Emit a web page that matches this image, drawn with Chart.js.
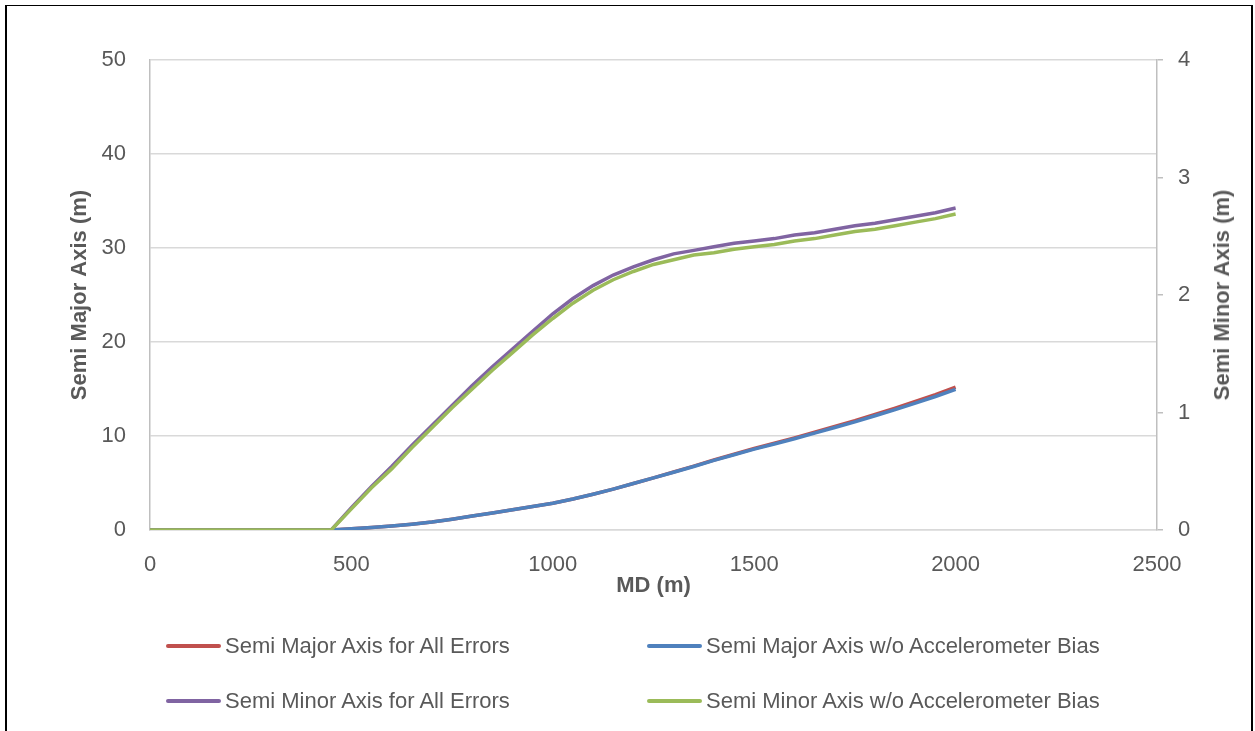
<!DOCTYPE html>
<html>
<head>
<meta charset="utf-8">
<script src="https://cdn.jsdelivr.net/npm/chart.js@4"></script>
<style>
  body { margin: 0; background: #fff; }
  #wrap { position: relative; width: 1255px; height: 731px; overflow: hidden; }
  #frame { position: absolute; left: 5px; top: 5px; width: 1248px; height: 760px;
           border: 2px solid #000; border-top-width: 1px; box-sizing: border-box; }
  #chart { position: absolute; left: 0; top: 0; }
  .leg { position: absolute; display: flex; align-items: center; height: 24px;
         font-family: "Liberation Sans Narrow", "Liberation Sans", sans-serif;
         font-size: 22px; color: #595959; white-space: nowrap; }
  .leg i { display: inline-block; width: 55px; height: 4px; border-radius: 2px; margin-right: 4px; }
  #rtitle { position: absolute; left: 1222px; top: 295px; transform: translate(-50%, -50%) rotate(-90deg);
            font-family: "Liberation Sans Narrow", "Liberation Sans", sans-serif;
            font-size: 22px; font-weight: bold; color: #595959; white-space: nowrap; }
</style>
</head>
<body>
<div id="wrap">
  <div id="frame"></div>
  <canvas id="chart" width="1255" height="731"></canvas>
  <div id="rtitle"></div>
</div>
<script>
const md = [0, 50, 100, 150, 200, 250, 300, 350, 400, 450,
  500, 550, 600, 650, 700, 750, 800, 850, 900, 950,
  1000, 1050, 1100, 1150, 1200, 1250, 1300, 1350, 1400, 1450,
  1500, 1550, 1600, 1650, 1700, 1750, 1800, 1850, 1900, 1950, 2000];

// semi major axis (left axis, m)
const majorAll = [0, 0, 0, 0, 0, 0, 0, 0, 0, 0,
  0.12, 0.26, 0.42, 0.62, 0.85, 1.15, 1.48, 1.8, 2.15, 2.5,
  2.85, 3.3, 3.8, 4.35, 4.95, 5.55, 6.17, 6.8, 7.45, 8.06,
  8.67, 9.23, 9.8, 10.4, 11.02, 11.63, 12.3, 12.96, 13.67, 14.4, 15.2];
const majorNoAcc = [0, 0, 0, 0, 0, 0, 0, 0, 0, 0,
  0.12, 0.26, 0.42, 0.62, 0.85, 1.15, 1.48, 1.8, 2.15, 2.5,
  2.85, 3.3, 3.8, 4.35, 4.95, 5.55, 6.15, 6.75, 7.4, 8.0,
  8.6, 9.15, 9.7, 10.3, 10.9, 11.5, 12.15, 12.8, 13.5, 14.2, 14.95];

// semi minor axis (right axis, m)
const minorAll = [0, 0, 0, 0, 0, 0, 0, 0, 0, 0,
  0.19, 0.37, 0.54, 0.72, 0.89, 1.06, 1.23, 1.39, 1.54, 1.69,
  1.84, 1.97, 2.08, 2.17, 2.24, 2.30, 2.35, 2.38, 2.41, 2.44,
  2.46, 2.48, 2.51, 2.53, 2.56, 2.59, 2.61, 2.64, 2.67, 2.70, 2.74];
const minorNoAcc = [0, 0, 0, 0, 0, 0, 0, 0, 0, 0,
  0.18, 0.36, 0.52, 0.70, 0.87, 1.04, 1.20, 1.36, 1.51, 1.66,
  1.80, 1.93, 2.04, 2.13, 2.20, 2.26, 2.30, 2.34, 2.36, 2.39,
  2.41, 2.43, 2.46, 2.48, 2.51, 2.54, 2.56, 2.59, 2.62, 2.65, 2.69];

const seriesNames = [
  "Semi Major Axis for All Errors",
  "Semi Major Axis w/o Accelerometer Bias",
  "Semi Minor Axis for All Errors",
  "Semi Minor Axis w/o Accelerometer Bias",
];
const seriesData = [majorAll, majorNoAcc, minorAll, minorNoAcc];
const seriesAxis = ["yL", "yL", "yR", "yR"];
const seriesColors = ["#c0504d", "#4f81bd", "#8064a2", "#9bbb59"];

const xTitle = "MD (m)";
const yLeftTitle = "Semi Major Axis (m)";
const yRightTitle = "Semi Minor Axis (m)";

const fontFamily = '"Liberation Sans Narrow", "Liberation Sans", sans-serif';
const textCol = "#595959";
Chart.defaults.font.family = fontFamily;
Chart.defaults.color = textCol;

const datasets = seriesNames.map((name, i) => ({
  label: name,
  data: md.map((x, j) => ({ x: x, y: seriesData[i][j] })),
  yAxisID: seriesAxis[i],
  borderColor: seriesColors[i],
  backgroundColor: seriesColors[i],
  borderWidth: 3.5,
  pointRadius: 0,
  tension: 0,
  order: 4 - i,
}));

const plain = (v) => String(v);

const chart = new Chart(document.getElementById("chart"), {
  type: "line",
  data: { datasets: datasets },
  options: {
    responsive: false,
    animation: false,
    layout: { padding: { left: 0, right: 0, top: 60, bottom: 131 } },
    plugins: { legend: { display: false }, tooltip: { enabled: false } },
    scales: {
      x: {
        type: "linear",
        min: 0,
        max: 2500,
        ticks: { stepSize: 500, font: { size: 22 }, padding: 22, maxRotation: 0, callback: plain },
        grid: { display: false, drawTicks: false },
        border: { display: true, color: "#d9d9d9", width: 1.5 },
        title: { display: true, text: xTitle, font: { size: 22, weight: "bold", lineHeight: 1.2 },
                 padding: { top: 0, bottom: 1 } },
        afterFit: (s) => { s.height = 70; },
      },
      yL: {
        position: "left",
        min: 0,
        max: 50,
        ticks: { stepSize: 10, font: { size: 22 }, padding: 24, callback: plain },
        grid: { color: "#d9d9d9", lineWidth: 1.5, drawTicks: false },
        border: { display: true, color: "#bfbfbf", width: 1.5 },
        title: { display: true, text: yLeftTitle, font: { size: 22, weight: "bold", lineHeight: 1.2 },
                 padding: { top: 67 } },
        afterFit: (s) => { s.width = 150; },
      },
      yR: {
        position: "right",
        min: 0,
        max: 4,
        ticks: { stepSize: 1, font: { size: 22 }, padding: 15, callback: plain },
        grid: { drawOnChartArea: false, drawTicks: true, tickLength: 6, color: "#bfbfbf", lineWidth: 1.5 },
        border: { display: true, color: "#bfbfbf", width: 1.5 },
        title: { display: false },
        afterFit: (s) => { s.width = 98; },
      },
    },
  },
});

// right axis title reads bottom-to-top like the left one
document.getElementById("rtitle").textContent = yRightTitle;

// legend as html, two columns
const legCols = [166, 647];
const legRows = [646, 701];
chart.data.datasets.forEach((ds, i) => {
  const el = document.createElement("div");
  el.className = "leg";
  el.style.left = legCols[i % 2] + "px";
  el.style.top = (legRows[Math.floor(i / 2)] - 12) + "px";
  const sw = document.createElement("i");
  sw.style.background = ds.borderColor;
  el.appendChild(sw);
  el.appendChild(document.createTextNode(ds.label));
  document.getElementById("wrap").appendChild(el);
});
</script>
</body>
</html>
